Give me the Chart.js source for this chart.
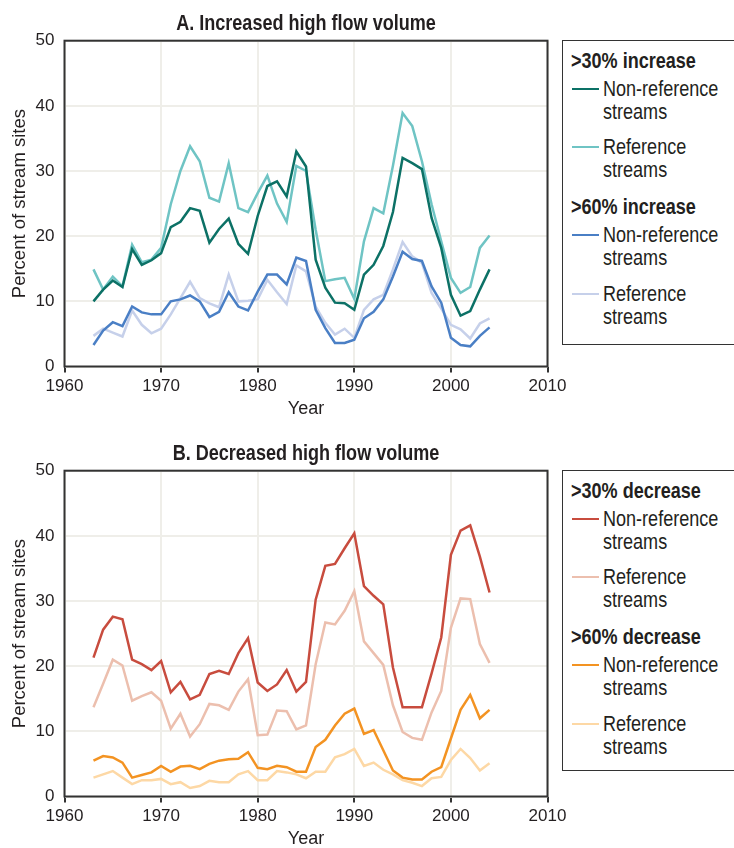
<!DOCTYPE html>
<html>
<head>
<meta charset="utf-8">
<script src="https://cdn.jsdelivr.net/npm/chart.js@4.4.1/dist/chart.umd.min.js"></script>
<style>
  html, body { margin: 0; padding: 0; background: #fff; }
  body { width: 734px; height: 848px; position: relative; overflow: hidden; font-family: 'Liberation Sans', Arial, sans-serif; color: #231f20; }
  canvas { position: absolute; left: 0; }
  .legend { position: absolute; left: 561.7px; width: 200px; border: 1.5px solid #333; background: #fff; }
  .legend div { position: absolute; }
  .legend .txt { font-size: 22px; line-height: 23.3px; white-space: nowrap; transform: scaleX(0.82); transform-origin: 0 0; }
  .legend .head { font-weight: bold; left: 8.5px; }
  .legend .item { left: 40.8px; }
  .legend .swatch { left: 9.8px; width: 27px; height: 0; border-top: 2.5px solid; }
</style>
</head>
<body>
<canvas id="chartA" width="575" height="430" style="top:0"></canvas>
<canvas id="chartB" width="575" height="430" style="top:430px"></canvas>
<div class="legend" id="legendA" style="top:40px; height:303px"></div>
<div class="legend" id="legendB" style="top:470px; height:299px"></div>
<script>
// anos 1963-2004
const years = [1963, 1964, 1965, 1966, 1967, 1968, 1969, 1970, 1971, 1972, 1973, 1974, 1975, 1976,
  1977, 1978, 1979, 1980, 1981, 1982, 1983, 1984, 1985, 1986, 1987, 1988, 1989, 1990,
  1991, 1992, 1993, 1994, 1995, 1996, 1997, 1998, 1999, 2000, 2001, 2002, 2003, 2004];

// A. aumento
const incNonRef30 = [10, 11.8, 13.2, 12.2, 18, 15.6, 16.3, 17.4, 21.4, 22.2, 24.3, 23.9, 19, 21.1,
  22.7, 18.8, 17.3, 23.1, 27.7, 28.4, 26.1, 33, 30.7, 16.4, 12.1, 9.8, 9.7, 8.7,
  14.1, 15.6, 18.5, 23.7, 32, 31.2, 30.3, 22.8, 18.2, 11, 7.8, 8.5, 11.8, 14.9];
const incRef30 = [14.9, 11.8, 13.8, 12.3, 18.7, 16, 16.4, 18.2, 24.9, 30, 33.8, 31.5, 25.9, 25.3,
  31.2, 24.3, 23.7, 26.6, 29.3, 25, 22.2, 30.8, 30, 21, 13.1, 13.4, 13.6, 10.4,
  19.2, 24.3, 23.5, 30.8, 38.9, 36.9, 31.5, 24.9, 19.2, 13.6, 11.3, 12.2, 18.2, 20.1];
const incNonRef60 = [3.3, 5.5, 6.8, 6.2, 9.2, 8.3, 8, 8, 10, 10.3, 10.9, 10, 7.6, 8.4,
  11.4, 9.2, 8.6, 11.5, 14.1, 14.1, 12.6, 16.7, 16.2, 8.7, 5.9, 3.6, 3.6, 4.1,
  7.4, 8.4, 10.3, 13.8, 17.6, 16.5, 16.2, 12.3, 9.8, 4.4, 3.3, 3.1, 4.7, 6];
const incRef60 = [4.7, 5.8, 5.2, 4.6, 8.6, 6.4, 5.1, 5.8, 8, 10.5, 13, 10.5, 9.7, 9.1,
  14.1, 10, 10.1, 10.3, 13.3, 11.4, 9.6, 15.5, 14.6, 9.2, 6.7, 4.9, 5.8, 4.4,
  8.7, 10.3, 11, 14.9, 19.1, 16.9, 15.9, 11.3, 8.9, 6.4, 5.7, 4.3, 6.6, 7.4];

// B. diminuicao
const decNonRef30 = [21.3, 25.6, 27.6, 27.2, 21, 20.3, 19.4, 20.8, 16, 17.6, 14.9, 15.6, 18.8, 19.3,
  18.8, 22, 24.3, 17.5, 16.2, 17.2, 19.4, 16.1, 17.6, 30.2, 35.4, 35.7, 38.1, 40.4,
  32.3, 30.8, 29.5, 19.8, 13.7, 13.7, 13.7, 18.9, 24.4, 37.1, 40.8, 41.6, 36.8, 31.3];
const decRef30 = [13.7, 17.3, 21, 20.1, 14.7, 15.4, 16, 14.7, 10.4, 12.7, 9.2, 11.1, 14.2, 14,
  13.3, 16.1, 18, 9.4, 9.5, 13.2, 13.1, 10.3, 10.9, 20.3, 26.7, 26.4, 28.5, 31.5,
  23.8, 22, 20.2, 14, 9.9, 9, 8.7, 12.9, 16.2, 25.9, 30.4, 30.3, 23.4, 20.5];
const decNonRef60 = [5.5, 6.2, 6, 5.2, 2.9, 3.3, 3.7, 4.7, 3.8, 4.6, 4.7, 4.2, 5, 5.5,
  5.7, 5.8, 6.8, 4.4, 4.2, 4.7, 4.5, 3.8, 3.8, 7.6, 8.7, 10.9, 12.7, 13.5,
  9.6, 10.2, 7.1, 4, 2.9, 2.6, 2.6, 3.8, 4.5, 8.9, 13.3, 15.6, 12, 13.3];
const decRef60 = [2.9, 3.4, 3.9, 2.9, 1.9, 2.5, 2.5, 2.7, 1.9, 2.2, 1.3, 1.6, 2.4, 2.2,
  2.2, 3.4, 3.9, 2.5, 2.5, 3.9, 3.7, 3.4, 2.8, 3.8, 3.8, 6, 6.5, 7.3,
  4.7, 5.2, 4.1, 3.4, 2.5, 2.1, 1.6, 2.8, 3, 5.6, 7.3, 5.9, 4, 5.1];

const xTicks = [1960, 1970, 1980, 1990, 2000, 2010];
const yTicks = [0, 10, 20, 30, 40, 50];

const titleA = 'A. Increased high flow volume';
const titleB = 'B. Decreased high flow volume';
const headsA = ['>30% increase', '>60% increase'];
const headsB = ['>30% decrease', '>60% decrease'];
const itemLabels = ['Non-reference|streams', 'Reference|streams', 'Non-reference|streams', 'Reference|streams'];

const coresA = ['#0c7166', '#6fc4c4', '#4a7fc5', '#c6d0ea'];
const coresB = ['#c84c3e', '#ecbfae', '#f39322', '#fdd8a5'];

const FONT = "'Liberation Sans', Arial, sans-serif";
const TEXT = '#231f20';

function pontos(vals) {
  return years.map((ano, i) => ({ x: ano, y: vals[i] }));
}

// moldura e titulo do painel (titulo estreitado, como no original)
const molduraPlugin = {
  id: 'moldura',
  afterDraw(chart) {
    const { ctx, chartArea } = chart;
    ctx.save();
    ctx.strokeStyle = '#333';
    ctx.lineWidth = 2;
    ctx.strokeRect(chartArea.left, chartArea.top, chartArea.right - chartArea.left, chartArea.bottom - chartArea.top);
    ctx.fillStyle = TEXT;
    ctx.font = 'bold 22px ' + FONT;
    ctx.textAlign = 'center';
    ctx.textBaseline = 'alphabetic';
    ctx.translate((chartArea.left + chartArea.right) / 2, 29.5);
    ctx.scale(0.82, 1);
    ctx.fillText(chart.options.plugins.moldura.titulo, 0, 0);
    ctx.restore();
  }
};

function criarGrafico(id, titulo, series, cores) {
  const ctx = document.getElementById(id).getContext('2d');
  return new Chart(ctx, {
    type: 'line',
    data: {
      datasets: series.map((vals, i) => ({
        data: pontos(vals),
        borderColor: cores[i],
        borderWidth: 2.5,
        pointRadius: 0,
        tension: 0,
        fill: false
      }))
    },
    options: {
      responsive: false,
      animation: false,
      devicePixelRatio: 1,
      layout: { padding: { top: 40.7, right: 27.5, left: 0, bottom: 0 } },
      plugins: {
        legend: { display: false },
        tooltip: { enabled: false },
        moldura: { titulo: titulo }
      },
      scales: {
        x: {
          type: 'linear',
          min: xTicks[0],
          max: xTicks[xTicks.length - 1],
          afterBuildTicks: function(scale) {
            scale.ticks = xTicks.map(v => ({ value: v }));
          },
          afterFit: function(scale) {
            scale.height = 63.5;
            scale.paddingLeft = 0;
            scale.paddingRight = 0;
          },
          ticks: {
            autoSkip: false,
            maxRotation: 0,
            padding: 4,
            color: TEXT,
            font: { family: FONT, size: 17 },
            callback: function(value) { return String(value); }
          },
          grid: { color: '#efeee9', lineWidth: 2, tickColor: '#333', tickLength: 6, tickWidth: 2 },
          border: { display: false },
          title: {
            display: true,
            text: 'Year',
            color: TEXT,
            font: { family: FONT, size: 18 },
            padding: { top: 0, bottom: 10 }
          }
        },
        y: {
          min: yTicks[0],
          max: yTicks[yTicks.length - 1],
          afterBuildTicks: function(scale) {
            scale.ticks = yTicks.map(v => ({ value: v }));
          },
          afterFit: function(scale) {
            scale.width = 64.5;
          },
          ticks: {
            padding: 10,
            color: TEXT,
            font: { family: FONT, size: 17 }
          },
          grid: { color: '#efeee9', lineWidth: 2, drawTicks: false },
          border: { display: false },
          title: {
            display: true,
            text: 'Percent of stream sites',
            color: TEXT,
            font: { family: FONT, size: 18.5 },
            padding: { top: 9, bottom: 0 }
          }
        }
      }
    },
    plugins: [molduraPlugin]
  });
}

function montarLegenda(id, cabecalhos, cores) {
  const box = document.getElementById(id);
  const topos = [35.9, 94.2, 182.2, 241.2];
  cabecalhos.forEach((txt, i) => {
    const h = document.createElement('div');
    h.className = 'txt head';
    h.style.top = (i === 0 ? 8.2 : 154.2) + 'px';
    h.textContent = txt;
    box.appendChild(h);
  });
  itemLabels.forEach((lbl, i) => {
    const sw = document.createElement('div');
    sw.className = 'swatch';
    sw.style.borderTopColor = cores[i];
    sw.style.top = (topos[i] + 10.6) + 'px';
    box.appendChild(sw);
    const it = document.createElement('div');
    it.className = 'txt item';
    it.style.top = topos[i] + 'px';
    it.innerHTML = lbl.split('|').join('<br>');
    box.appendChild(it);
  });
}

criarGrafico('chartA', titleA, [incNonRef30, incRef30, incNonRef60, incRef60], coresA);
criarGrafico('chartB', titleB, [decNonRef30, decRef30, decNonRef60, decRef60], coresB);
montarLegenda('legendA', headsA, coresA);
montarLegenda('legendB', headsB, coresB);
</script>
</body>
</html>
